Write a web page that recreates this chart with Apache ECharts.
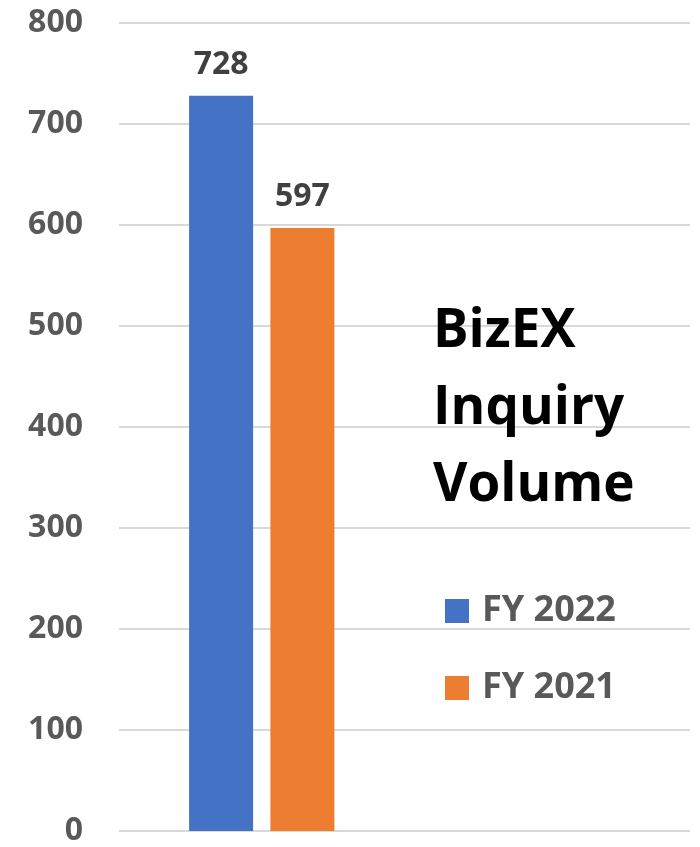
<!DOCTYPE html>
<html>
<head>
    <meta charset="utf-8">
    <title>BizEX Inquiry Volume</title>
    <script src="https://cdn.jsdelivr.net/npm/echarts@6/dist/echarts.min.js"></script>
    <style>
        html, body { margin: 0; padding: 0; background: #fff; }
        #main { width: 700px; height: 847px; }
    </style>
</head>
<body>
<div id="main"></div>
<script>
    // data
    var categories = ['Inquiries', ''];
    var seriesNames = ['FY 2022', 'FY 2021'];
    var fy2022 = [728, null];
    var fy2021 = [597, null];
    var colors = ['#4472c4', '#ed7d31'];

    var font = '"Open Sans", "Liberation Sans", sans-serif';

    var labelStyle = {
        show: true,
        position: 'top',
        distance: 15,
        color: '#404040',
        fontFamily: font,
        fontWeight: 'bold',
        fontSize: 32
    };

    var option = {
        animation: false,
        color: colors,
        grid: { left: 119, right: 10, top: 23, bottom: 14 },
        title: {
            text: 'BizEX\nInquiry\nVolume',
            left: 428,
            top: 288,
            textStyle: {
                color: '#000',
                fontFamily: font,
                fontWeight: 'bold',
                fontSize: 53,
                lineHeight: 77
            }
        },
        legend: {
            orient: 'vertical',
            left: 440,
            top: 588,
            icon: 'rect',
            itemWidth: 24,
            itemHeight: 24,
            itemGap: 41,
            data: seriesNames,
            textStyle: {
                color: '#595959',
                fontFamily: font,
                fontWeight: 'bold',
                fontSize: 36,
                lineHeight: 24,
                padding: [0, 0, 0, 8]
            }
        },
        xAxis: {
            type: 'category',
            data: categories,
            axisLine: { show: false },
            axisTick: { show: false },
            axisLabel: { show: false }
        },
        yAxis: {
            type: 'value',
            min: 0,
            max: 800,
            interval: 100,
            axisLabel: {
                margin: 36,
                color: '#595959',
                fontFamily: font,
                fontWeight: 'bold',
                fontSize: 32
            },
            splitLine: { lineStyle: { color: '#d9d9d9', width: 2 } }
        },
        series: [
            {
                name: seriesNames[0],
                type: 'bar',
                data: fy2022,
                barWidth: 64,
                barGap: '27%',
                label: labelStyle
            },
            {
                name: seriesNames[1],
                type: 'bar',
                data: fy2021,
                barWidth: 64,
                label: labelStyle
            }
        ]
    };

    var chart = echarts.init(document.getElementById('main'));
    chart.setOption(option);
</script>
</body>
</html>
